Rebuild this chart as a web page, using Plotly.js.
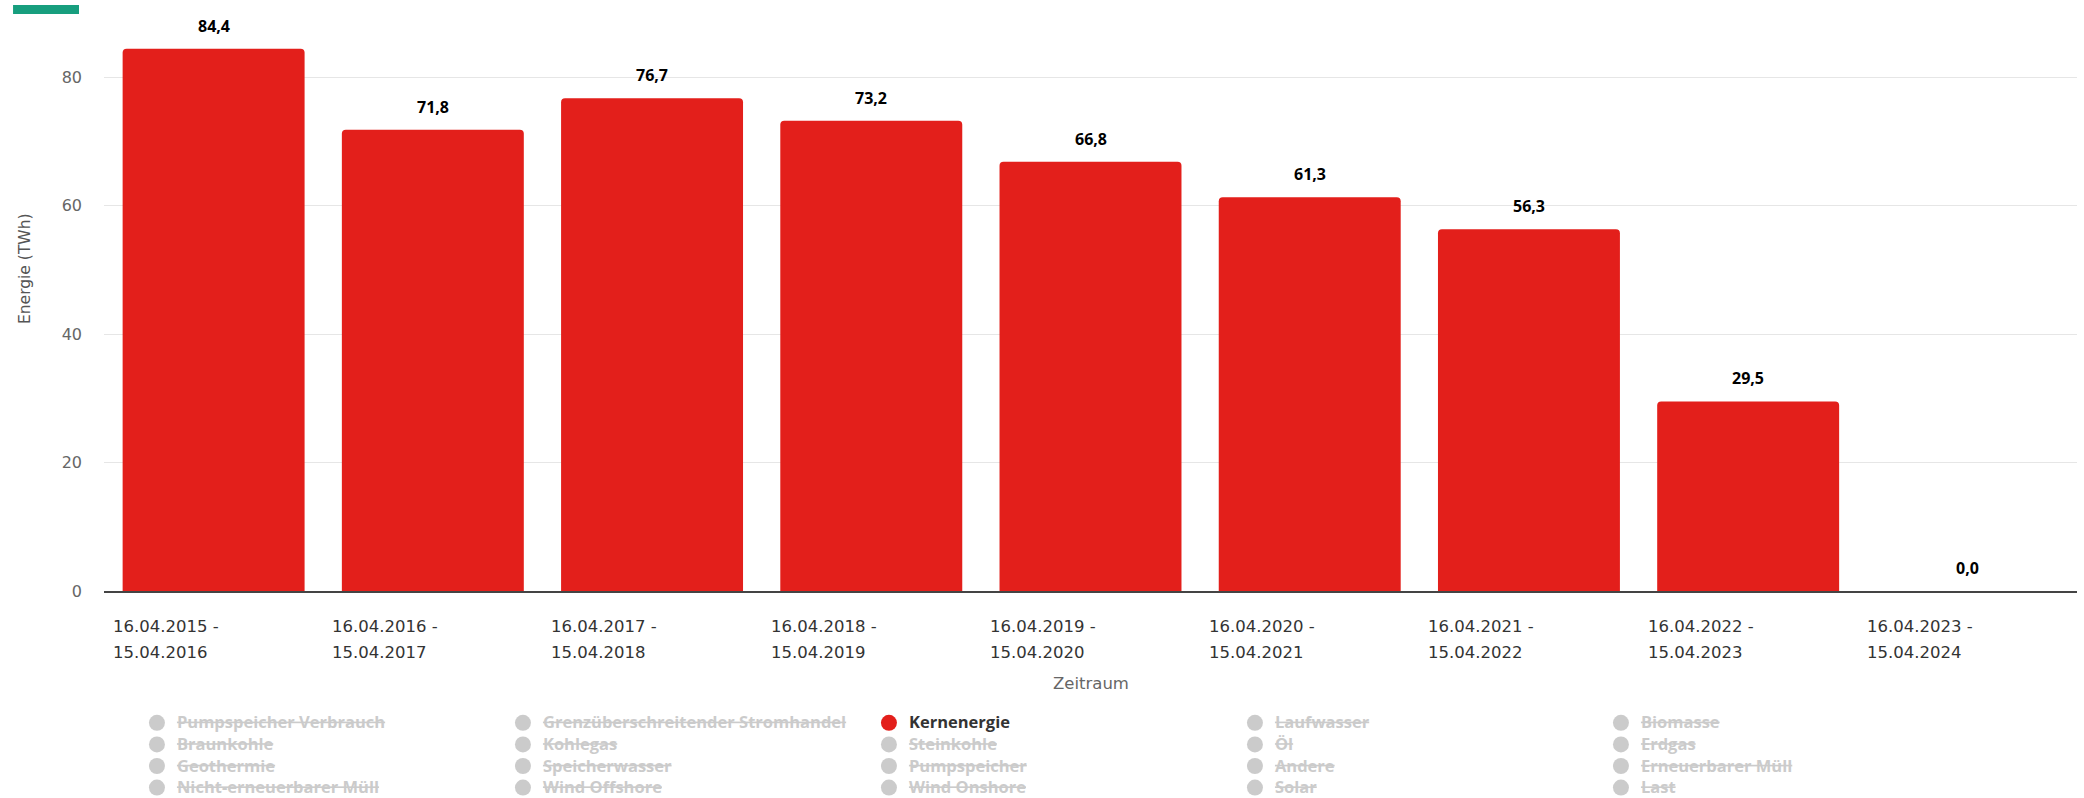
<!DOCTYPE html>
<html>
<head>
<meta charset="utf-8">
<script src="https://cdn.plot.ly/plotly-3.0.1.min.js"></script>
<style>
  html, body { margin: 0; padding: 0; background: #ffffff; }
  #chart { width: 2084px; height: 798px; }
</style>
</head>
<body>
<div id="chart"></div>
<script>
// ---- data ----
const periodStart = ["16.04.2015", "16.04.2016", "16.04.2017", "16.04.2018", "16.04.2019",
                     "16.04.2020", "16.04.2021", "16.04.2022", "16.04.2023"];
const periodEnd   = ["15.04.2016", "15.04.2017", "15.04.2018", "15.04.2019", "15.04.2020",
                     "15.04.2021", "15.04.2022", "15.04.2023", "15.04.2024"];
const categories = periodStart.map((s, i) => s + " - " + periodEnd[i]);
const kernenergie = [84.4, 71.8, 76.7, 73.2, 66.8, 61.3, 56.3, 29.5, 0.0];
const activeSeries = "Kernenergie";
const legendNames = [
  "Pumpspeicher Verbrauch", "Grenzüberschreitender Stromhandel", "Kernenergie", "Laufwasser", "Biomasse",
  "Braunkohle", "Kohlegas", "Steinkohle", "Öl", "Erdgas",
  "Geothermie", "Speicherwasser", "Pumpspeicher", "Andere", "Erneuerbarer Müll",
  "Nicht-erneuerbarer Müll", "Wind Offshore", "Wind Onshore", "Solar", "Last"
];
const yTitle = "Energie (TWh)";
const xTitle = "Zeitraum";

// ---- styles ----
const RED = "#e31f1b";
const tickFont = "DejaVu Sans, Verdana, sans-serif";
const labelFont = "Open Sans, sans-serif";

const traces = [];
legendNames.forEach(name => {
  if (name === activeSeries) {
    traces.push({
      type: "scatter", mode: "markers",
      name: "<span style='color:#333333;font-size:16.5px'>" + name + "</span>",
      x: [categories[0]], y: [null],
      marker: { color: RED, size: 16, symbol: "circle" },
      hoverinfo: "skip", showlegend: true
    });
  } else {
    // series switched off in the original chart: shown only in the legend
    traces.push({
      type: "scatter", mode: "markers",
      name: "<span style='font-size:16.5px'><s>" + name + "</s></span>",
      x: [categories[0]], y: [null], visible: "legendonly",
      marker: { color: "#999999", size: 16, symbol: "circle" },
      hoverinfo: "skip", showlegend: true
    });
  }
});
traces.push({
  type: "bar", name: activeSeries, x: categories, y: kernenergie,
  marker: { color: RED, cornerradius: 4, line: { width: 0 } },
  showlegend: false, hoverinfo: "x+y"
});

const annotations = [];
categories.forEach((c, i) => {
  annotations.push({
    xref: "x", yref: "paper", x: i - 0.5, y: 0, xanchor: "left", yanchor: "middle",
    xshift: 7, yshift: -35, showarrow: false, text: periodStart[i] + " -",
    font: { family: tickFont, size: 16.5, color: "#333333" }, align: "left"
  });
  annotations.push({
    xref: "x", yref: "paper", x: i - 0.5, y: 0, xanchor: "left", yanchor: "middle",
    xshift: 7, yshift: -61, showarrow: false, text: periodEnd[i],
    font: { family: tickFont, size: 16.5, color: "#333333" }, align: "left"
  });
  annotations.push({
    xref: "x", yref: "y", x: c, y: kernenergie[i], xanchor: "center", yanchor: "bottom",
    yshift: 10, showarrow: false, text: kernenergie[i].toFixed(1).replace(".", ","),
    font: { family: labelFont, size: 16, color: "#000000", weight: 700 }
  });
});
annotations.push({
  xref: "paper", yref: "paper", x: 0.5, y: -0.1643, xanchor: "center", yanchor: "middle",
  showarrow: false, text: xTitle, font: { family: tickFont, size: 16.5, color: "#666666" }
});
annotations.push({
  xref: "paper", yref: "paper", x: -0.0400, y: 0.569, xanchor: "center", yanchor: "middle",
  textangle: -90, showarrow: false, text: yTitle,
  font: { family: tickFont, size: 15.5, color: "#555555" }
});

const layout = {
  width: 2084, height: 798,
  margin: { l: 104, r: 7, t: 25, b: 207, pad: 0, autoexpand: false },
  paper_bgcolor: "#ffffff", plot_bgcolor: "#ffffff",
  bargap: 0.17,
  showlegend: true,
  xaxis: {
    type: "category", categoryorder: "array", categoryarray: categories,
    showticklabels: false, ticks: "", showgrid: false, zeroline: false,
    showline: true, linecolor: "#444444", linewidth: 1.5, fixedrange: true
  },
  yaxis: {
    range: [0, 88.1], tick0: 0, dtick: 20, showgrid: true, gridcolor: "#e6e6e6", gridwidth: 1,
    zeroline: false, showline: false, ticks: "", ticklabelstandoff: 21,
    tickfont: { family: tickFont, size: 16, color: "#666666" }, fixedrange: true
  },
  legend: {
    orientation: "h", x: 0.0167, xanchor: "left", y: -0.205, yanchor: "top",
    entrywidth: 321, entrywidthmode: "pixels", traceorder: "normal",
    font: { family: labelFont, size: 14.3, color: "#999999", weight: 700 },
    bgcolor: "rgba(0,0,0,0)", borderwidth: 0, itemclick: false, itemdoubleclick: false
  },
  shapes: [{
    type: "rect", xref: "paper", yref: "paper",
    x0: -0.0461, x1: -0.01267, y0: 1.0194, y1: 1.0353,
    fillcolor: "#179e7e", line: { width: 0 }, layer: "above"
  }],
  annotations: annotations
};

Plotly.newPlot("chart", traces, layout, { displayModeBar: false, staticPlot: false, responsive: false });
</script>
</body>
</html>
